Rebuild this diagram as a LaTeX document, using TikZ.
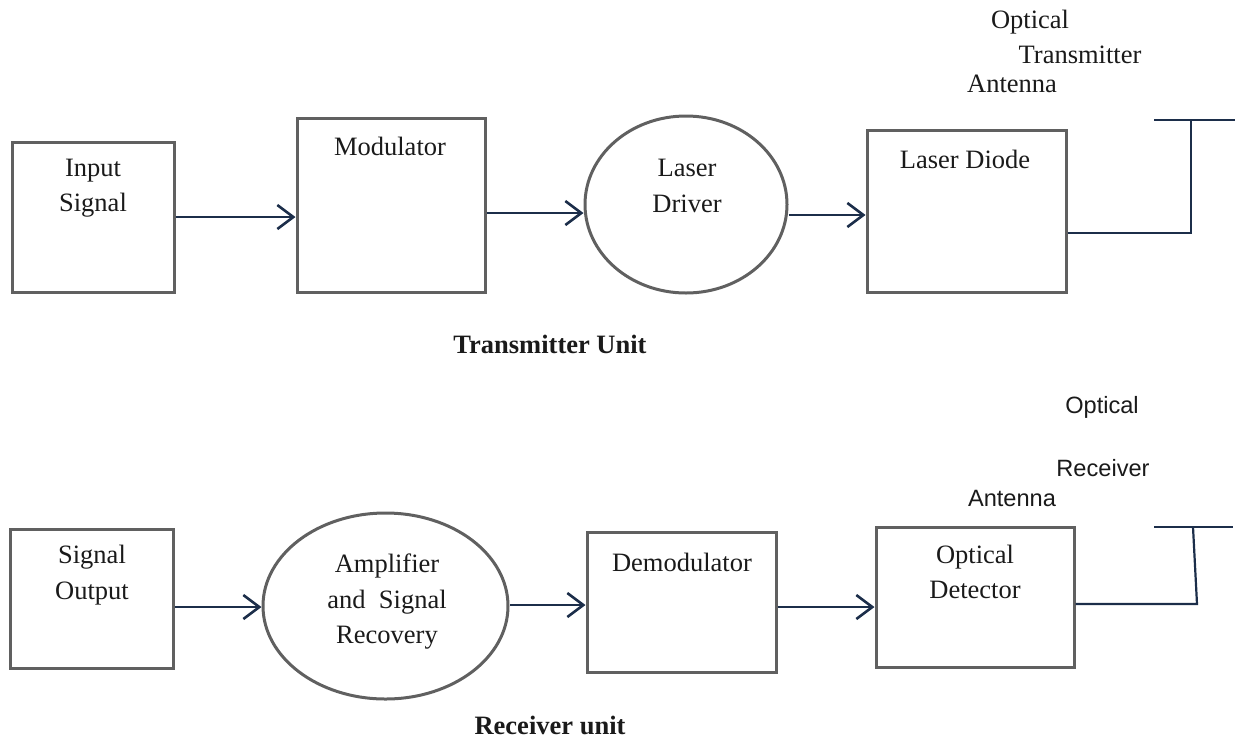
\documentclass[tikz,border=0pt]{standalone}
\usepackage{fontspec}
\setmainfont{Liberation Serif}
\newfontfamily\arialfont{Liberation Sans}
\usetikzlibrary{arrows.meta,shapes.geometric}
\definecolor{boxgray}{HTML}{606060}
\definecolor{navy}{HTML}{1C2E4A}
\definecolor{ink}{HTML}{1A1A1A}
\tikzset{
  blk/.style={draw=boxgray,line width=3pt,rectangle,inner sep=0pt},
  oval/.style={draw=boxgray,line width=3pt,ellipse,inner sep=0pt},
  txt/.style={text=ink,font=\fontsize{26.5}{35.5}\selectfont,align=center,inner sep=0pt},
  stxt/.style={text=ink,font=\arialfont\fontsize{23.6}{30}\selectfont,inner sep=0pt},
  btxt/.style={text=ink,font=\fontsize{26.5}{32}\selectfont\bfseries,inner sep=0pt},
  conn/.style={draw=navy,line width=2.6pt,-{Straight Barb[length=16pt,width=24pt]}},
  wire/.style={draw=navy,line width=2.2pt},
}
\begin{document}
\begin{tikzpicture}[x=1pt,y=-1pt]
\useasboundingbox (0,0) rectangle (1245,740);
% ---------- Transmitter ----------
\node[blk,minimum width=162pt,minimum height=150pt] (in) at (93,217) {};
\node[blk,minimum width=188pt,minimum height=174pt] (mod) at (391,205) {};
\node[oval,minimum width=202pt,minimum height=177pt] (drv) at (686,204.5) {};
\node[blk,minimum width=199pt,minimum height=162pt] (ld) at (966.5,211) {};
\node[txt] (tin) at (93,188) {Input\\Signal};
\node[txt] (tmod) at (390,146) {Modulator};
\node[txt] (tdrv) at (687,186) {Laser\\Driver};
\node[txt] (tld) at (965,159) {Laser Diode};
\draw[conn] (in.east |- 0,217) -- (mod.west |- 0,217);
\draw[conn] (mod.east |- 0,213) -- (drv.west |- 0,213);
\draw[conn] (drv.east |- 0,215) -- (ld.west |- 0,215);
\coordinate (ta1) at (1191,233);
\coordinate (ta2) at (1191,120);
\coordinate (tb1) at (1154,120);
\coordinate (tb2) at (1235,120);
\draw[wire] (ld.east |- ta1) -- (ta1) -- (ta2);
\draw[wire] (tb1) -- (tb2);
\node[txt] (to1) at (1030,22) {Optical};
\node[txt] (to2) at (1080,55) {Transmitter};
\node[txt] (to3) at (1012,84) {Antenna};
\node[btxt] (tu) at (550,344) {Transmitter Unit};
% ---------- Receiver ----------
\node[blk,minimum width=163pt,minimum height=139pt] (so) at (91.5,598.5) {};
\node[oval,minimum width=245pt,minimum height=186pt] (amp) at (385.5,606) {};
\node[blk,minimum width=189pt,minimum height=140pt] (dem) at (681.5,602) {};
\node[blk,minimum width=198pt,minimum height=140pt] (det) at (975,597) {};
\node[txt] (tso) at (92,575) {Signal\\Output};
\node[txt] (tamp) at (387,602) {Amplifier\\and\ \ Signal\\Recovery};
\node[txt] (tdem) at (682,562) {Demodulator};
\node[txt] (tdet) at (975,572) {Optical\\Detector};
\draw[conn] (so.east |- 0,607) -- (amp.west |- 0,607);
\draw[conn] (amp.east |- 0,605) -- (dem.west |- 0,605);
\draw[conn] (dem.east |- 0,607) -- (det.west |- 0,607);
\coordinate (ra1) at (1197,604);
\coordinate (ra2) at (1193,527);
\coordinate (rb1) at (1154,527);
\coordinate (rb2) at (1233,527);
\draw[wire] (det.east |- ra1) -- (ra1) -- (ra2);
\draw[wire] (rb1) -- (rb2);
\node[stxt] (ro1) at (1102,407) {Optical};
\node[stxt] (ro2) at (1103,468) {Receiver};
\node[stxt] (ro3) at (1012,498) {Antenna};
\node[btxt] (ru) at (550,725) {Receiver unit};
\end{tikzpicture}
\end{document}
